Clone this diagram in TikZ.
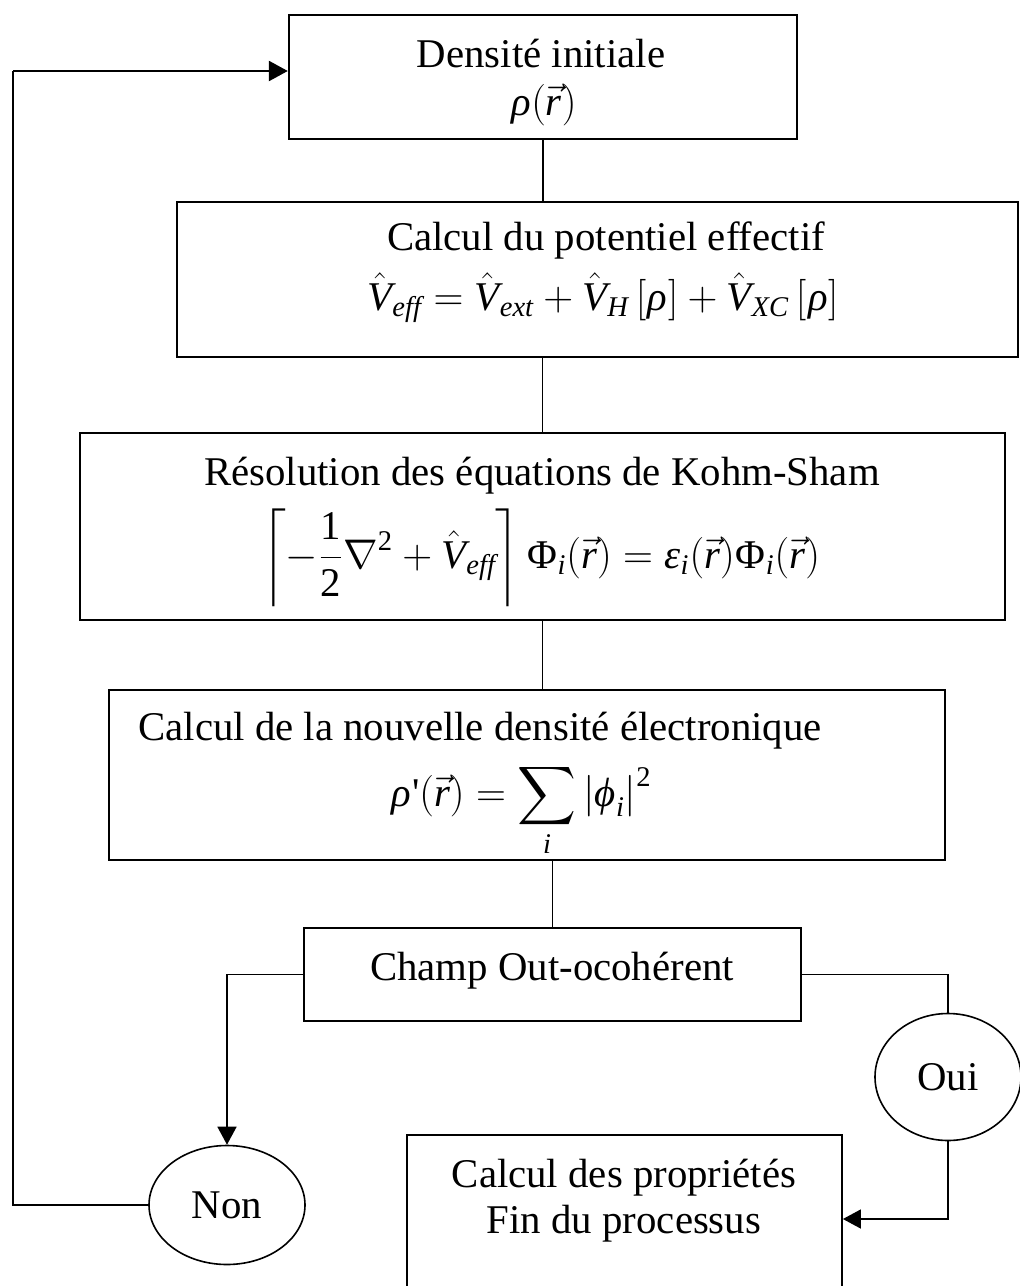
\documentclass[tikz,border=0pt]{standalone}
\usepackage{amsmath, amssymb}
\usepackage{mathspec}
\setmainfont{Liberation Serif}
\setmathsfont(Digits,Latin,Greek){Liberation Serif}
\usetikzlibrary{arrows.meta, shapes.geometric, calc}

\tikzset{
  boite/.style={draw, line width=1.2pt, inner sep=0pt},
  bulle/.style={draw, ellipse, line width=0.8pt, inner sep=0pt, font=\fontsize{20.4pt}{24pt}\selectfont},
  texte/.style={anchor=base, inner sep=0pt, font=\fontsize{20.4pt}{24pt}\selectfont},
  lien/.style={line width=0.8pt},
  fleche/.style={line width=0.8pt, -{Triangle[length=9pt, width=9.5pt]}},
}

\begin{document}
\begin{tikzpicture}[x=0.5pt, y=-0.5pt]
  \path[use as bounding box, clip] (0,0) rectangle (1020,1286);
  % boites
  \node[boite, minimum width=254pt, minimum height=62pt] (dens) at (543,77) {};
  \node[boite, minimum width=420.5pt, minimum height=77.5pt] (pot) at (597.5,279.5) {};
  \node[boite, minimum width=462.5pt, minimum height=93.5pt] (ks) at (542.5,526.5) {};
  \node[boite, minimum width=418pt, minimum height=85pt] (nd) at (527,775) {};
  \node[boite, line width=1pt, minimum width=248.5pt, minimum height=46.5pt] (champ) at (552.5,974.5) {};
  \node[boite, line width=0.9pt, minimum width=217.5pt, minimum height=84pt] (prop) at (624.5,1219) {};
  \node[bulle, minimum width=73pt, minimum height=63.5pt] (oui) at (948,1077) {Oui};
  \node[bulle, minimum width=78pt, minimum height=59.5pt] (non) at (227,1205) {Non};
  % textes
  \node[texte] (t-dens) at (541,67) {Densité initiale};
  \node[texte] (f-dens) at (543,115) {$\rho(\vec{r})$};
  \node[texte] (t-pot) at (606,250) {Calcul du potentiel effectif};
  \node[texte] (f-pot) at (603,310) {$\hat{V}_{eff}=\hat{V}_{ext}+\hat{V}_{H}\left[\rho\right]+\hat{V}_{XC}\left[\rho\right]$};
  \node[texte] (t-ks) at (542,485) {Résolution des équations de Kohm-Sham};
  \node[texte] (f-ks) at (541,568) {$\displaystyle\left\lceil-\frac{1}{2}\nabla^{2}+\hat{V}_{eff}\right\rceil\Phi_{i}(\vec{r})=\textit{ε}_{i}(\vec{r})\Phi_{i}(\vec{r})$};
  \node[texte] (t-nd) at (480,740) {Calcul de la nouvelle densité électronique};
  \node[texte] (f-nd) at (521,806) {$\displaystyle\rho\textrm{\textquotesingle}(\vec{r})=\sum_{i}\left|\textit{ϕ}_{i}\right|^{2}$};
  \node[texte] (t-champ) at (552,980) {Champ Out-ocohérent};
  \node[texte] (t-prop) at (624,1187) {Calcul des propriétés};
  \node[texte] (t-fin) at (624,1233) {Fin du processus};
  % liaisons
  \draw[lien] (dens.south) -- (dens.south |- pot.north);
  \draw[lien] (ks.north |- pot.south) -- (ks.north);
  \draw[lien] (ks.south) -- (ks.south |- nd.north);
  \draw[lien] (champ.north |- nd.south) -- (champ.north);
  \draw[fleche] (champ.west) -| (non.north);
  \draw[lien] (champ.east) -| (oui.north);
  \draw[fleche] (oui.south) |- (prop.east);
  % retour
  \coordinate (retour) at (13,71);
  \draw[lien] (non.west) -| (retour);
  \draw[line width=1.3pt, -{Triangle[length=9.5pt, width=10pt]}] (retour) -- (retour -| dens.west);
\end{tikzpicture}
\end{document}
